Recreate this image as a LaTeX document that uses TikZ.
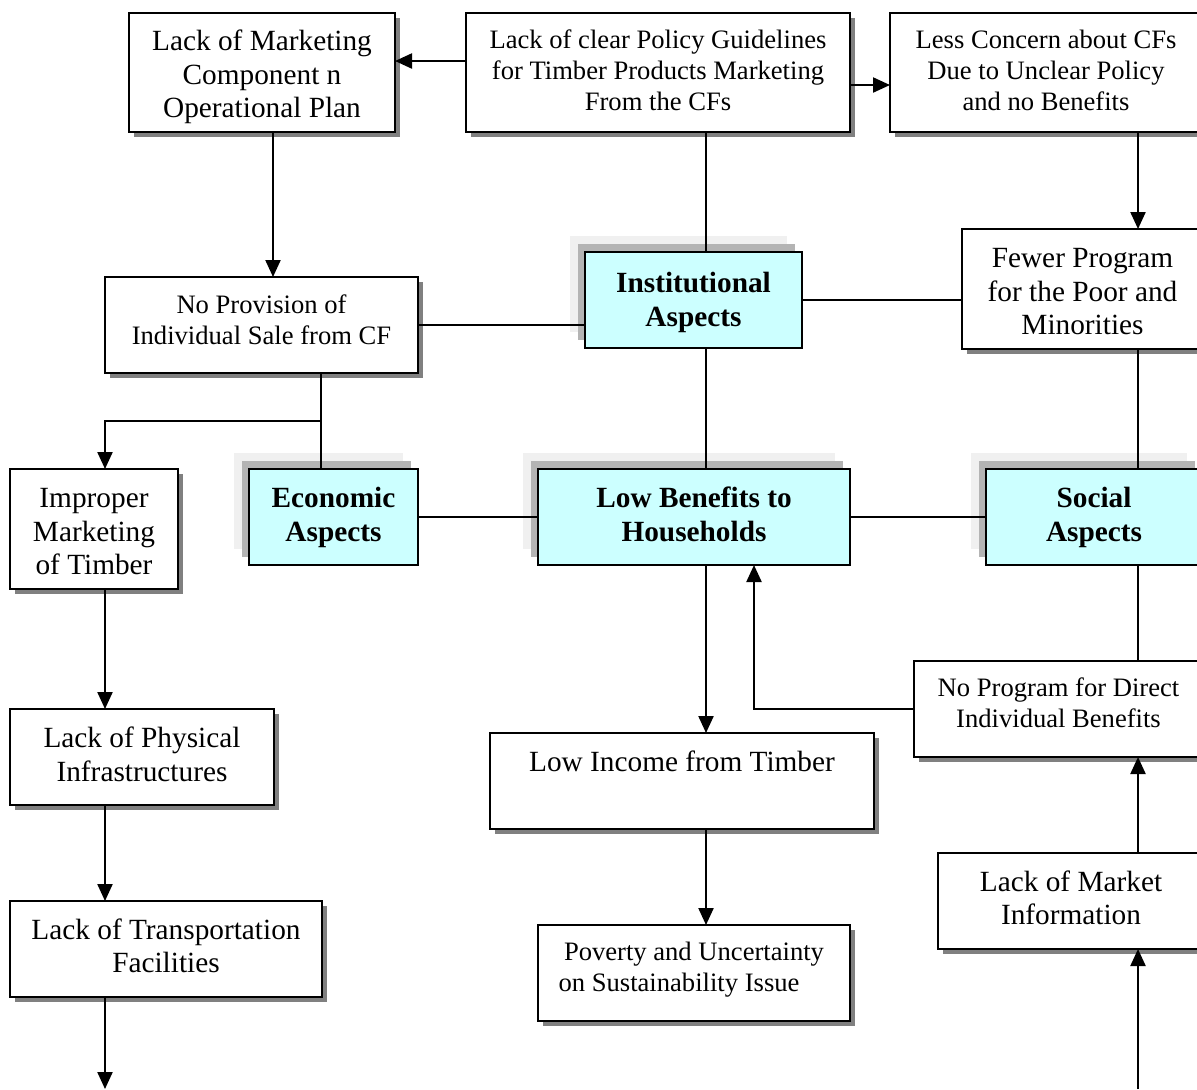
\documentclass[tikz,border=0pt]{standalone}
\usepackage{fontspec}
\setmainfont{Liberation Serif}
\usetikzlibrary{arrows.meta,shadows,calc}

\definecolor{aspectfill}{HTML}{CCFFFF}
\definecolor{backlight}{HTML}{F0F0F0}
\definecolor{backdark}{HTML}{B4B4B4}
\definecolor{dropgray}{HTML}{808080}

\tikzset{
  base/.style={draw=black, line width=1pt, inner sep=0pt, outer sep=0pt},
  plain/.style={base, fill=white,
    drop shadow={shadow xshift=2.5pt, shadow yshift=-2.5pt, fill=dropgray, opacity=1}},
  aspect/.style={base, fill=aspectfill,
    general shadow={fill=backlight, opacity=1, shadow xshift=-7.5pt, shadow yshift=8pt},
    general shadow={fill=backdark, opacity=1, shadow xshift=-3.5pt, shadow yshift=4pt}},
  label text/.style={inner sep=0pt, outer sep=0pt, align=center},
  txtsmall/.style={label text, font=\fontsize{13.3}{15.5}\selectfont},
  txtlarge/.style={label text, font=\fontsize{14.65}{16.75}\selectfont},
  txtbold/.style={label text, font=\fontsize{14.65}{17}\selectfont\bfseries},
  link/.style={line width=1.1pt},
  arr/.style={link, -{Triangle[length=8.5pt,width=7.5pt]}},
}

% box from its corner coordinates, with its text set dy below the centre:
% box style, text style, name, x1, y1, x2, y2, dy, text
\newcommand\boxat[9]{%
  \node[#1, minimum width={(#6-#4)*0.5pt}, minimum height={(#7-#5)*0.5pt}]
    (#3) at ({(#4+#6)/2},{(#5+#7)/2}) {};
  \node[#2] (#3-t) at ({(#4+#6)/2},{(#5+#7)/2+#8}) {#9};}

\begin{document}
\begin{tikzpicture}[x=0.5pt, y=-0.5pt]
  \fill[white] (0,0) rectangle (1197,1089);
  \useasboundingbox (0,0) rectangle (1197,1089);

  % boxes
  \boxat{plain}{txtlarge}{mkt}{129}{13}{395}{132}{4.5}{Lack of Marketing\\Component n\\Operational Plan}
  \boxat{plain}{txtsmall}{pol}{466}{13}{850}{132}{-2}{Lack of clear Policy Guidelines\\for Timber Products Marketing\\From the CFs}
  \boxat{plain}{txtsmall}{less}{890}{13}{1202}{132}{-2}{Less Concern about CFs\\Due to Unclear Policy\\and no Benefits}
  \boxat{plain}{txtlarge}{fewer}{962}{229}{1203}{349}{3}{Fewer Program\\for the Poor and\\Minorities}
  \boxat{aspect}{txtbold}{inst}{585}{252}{802}{348}{2}{Institutional\\Aspects}
  \boxat{plain}{txtsmall}{prov}{105}{277}{418}{373}{-5.5}{No Provision of\\Individual Sale from CF}
  \boxat{plain}{txtlarge}{impr}{10}{469}{178}{589}{3}{Improper\\Marketing\\of Timber}
  \boxat{aspect}{txtbold}{econ}{249}{469}{418}{565}{0}{Economic\\Aspects}
  \boxat{aspect}{txtbold}{lowb}{538}{469}{850}{565}{-3}{Low Benefits to\\Households}
  \boxat{aspect}{txtbold}{soc}{986}{469}{1202}{565}{0}{Social\\Aspects}
  \boxat{plain}{txtsmall}{direct}{914}{661}{1203}{757}{-6}{No Program for Direct\\Individual Benefits}
  \boxat{plain}{txtlarge}{phys}{10}{709}{274}{805}{-2.5}{Lack of Physical\\Infrastructures}
  \boxat{plain}{txtlarge}{inc}{490}{733}{874}{829}{-20}{Low Income from Timber}
  \boxat{plain}{txtlarge}{trans}{10}{901}{322}{997}{-3}{Lack of Transportation\\Facilities}
  \boxat{plain}{txtlarge}{info}{938}{853}{1204}{949}{-3}{Lack of Market\\Information}
  \boxat{plain}{txtsmall}{pov}{538}{925}{850}{1021}{-3}{Poverty and Uncertainty\\on Sustainability Issue\hspace*{15pt}}

  % connectors
  \draw[arr]  (pol.west |- 0,61) -- (mkt.east |- 0,61);
  \draw[arr]  (pol.east |- 0,85) -- (less.west |- 0,85);
  \draw[link] (pol.south -| 706,0) -- (inst.north -| 706,0);
  \draw[arr]  (mkt.south -| 273,0) -- (prov.north -| 273,0);
  \draw[arr]  (less.south -| 1138,0) -- (fewer.north -| 1138,0);
  \draw[link] (inst.east |- 0,300) -- (fewer.west |- 0,300);
  \draw[link] (prov.east |- 0,325) -- (inst.west |- 0,325);
  \draw[link] (inst.south -| 706,0) -- (lowb.north -| 706,0);

  \coordinate (fork) at (321,421);
  \draw[link] (prov.south -| fork) -- (econ.north -| fork);
  \draw[arr]  (fork) -| (impr.north -| 105,0);

  \draw[link] (econ.east |- 0,517) -- (lowb.west |- 0,517);
  \draw[link] (lowb.east) -- (soc.west);
  \draw[link] (fewer.south -| 1138,0) -- (soc.north -| 1138,0);
  \draw[link] (soc.south -| 1138,0) -- (direct.north -| 1138,0);
  \draw[arr]  (direct.west |- 0,709) -| (lowb.south -| 754,0);
  \draw[arr]  (lowb.south -| 706,0) -- (inc.north -| 706,0);
  \draw[arr]  (inc.south -| 706,0) -- (pov.north -| 706,0);
  \draw[arr]  (info.north -| 1138,0) -- (direct.south -| 1138,0);

  \coordinate (infeed) at (1138,1089);
  \draw[arr]  (infeed) -- (info.south -| infeed);

  \draw[arr]  (impr.south -| 105,0) -- (phys.north -| 105,0);
  \draw[arr]  (phys.south -| 105,0) -- (trans.north -| 105,0);
  \coordinate (outfeed) at (105,1089);
  \draw[arr]  (trans.south -| 105,0) -- (outfeed);
\end{tikzpicture}
\end{document}
